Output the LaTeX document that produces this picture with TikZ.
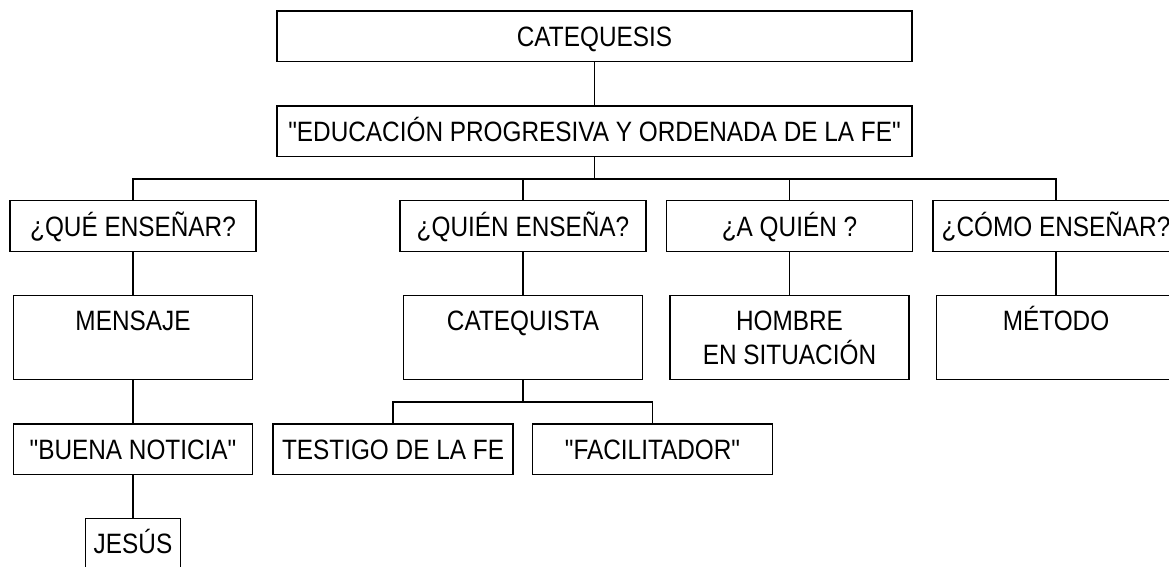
\documentclass[tikz,border=0pt]{standalone}
\usepackage{fontspec}
\setmainfont{Liberation Sans}[FakeStretch=0.87, Ligatures=TeXOff]
\tikzset{
  box/.style={draw, line width=1.5pt, inner sep=0pt, text height=20pt, text depth=0pt,
              minimum height=50.7pt, font=\fontsize{28}{32.7}\selectfont},
  tallbox/.style={box, minimum height=83.7pt, text depth=35pt},
  conn/.style={line width=1.1pt}
}
\begin{document}
\begin{tikzpicture}[x=1pt,y=-1pt]
\useasboundingbox (0,0) rectangle (1169,566);
% level 1-2
\node[box, minimum width=635pt] (cat) at (594.5,36.3) {CATEQUESIS};
\node[box, minimum width=635pt] (edu) at (594.5,131.3) {"EDUCACIÓN PROGRESIVA Y ORDENADA DE LA FE"};
% level 3
\node[box, minimum width=246pt, minimum height=51pt] (que) at (133,226.2) {¿QUÉ ENSEÑAR?};
\node[box, minimum width=246pt, minimum height=51pt] (quien) at (523,226.2) {¿QUIÉN ENSEÑA?};
\node[box, minimum width=246pt, minimum height=51pt] (aquien) at (789.5,226.2) {¿A QUIÉN ?};
\node[box, minimum width=246pt, minimum height=51pt] (como) at (1056,226.2) {¿CÓMO ENSEÑAR?};
% level 4
\node[tallbox, minimum width=239pt] (men) at (133,337.5) {MENSAJE};
\node[tallbox, minimum width=239pt] (cateq) at (523,337.5) {CATEQUISTA};
\node[tallbox, minimum width=239pt] (hombre) at (789.5,337.5) {\begin{tabular}[t]{@{}c@{}}HOMBRE\\EN SITUACIÓN\end{tabular}};
\node[tallbox, minimum width=239pt] (metodo) at (1056,337.5) {MÉTODO};
% level 5
\node[box, minimum width=239pt, minimum height=50.3pt] (buena) at (133,449.2) {"BUENA NOTICIA"};
\node[box, minimum width=239.6pt, minimum height=50.3pt] (testigo) at (393,449.2) {TESTIGO DE LA FE};
\node[box, minimum width=239.6pt, minimum height=50.3pt] (facil) at (652.5,449.2) {"FACILITADOR"};
% level 6
\node[box, minimum width=95pt, minimum height=50pt] (jesus) at (133,543.3) {JESÚS};
% connectors
\coordinate (b1) at (594.5,179);
\coordinate (b2) at (523,402);
\draw[conn] (cat) -- (edu);
\draw[conn] (edu) -- (b1);
\draw[conn] (que.north) |- (b1) -| (como.north);
\draw[conn] (quien.north) -- (quien.north |- b1);
\draw[conn] (aquien.north) -- (aquien.north |- b1);
\draw[conn] (que) -- (men);
\draw[conn] (quien) -- (cateq);
\draw[conn] (aquien) -- (hombre);
\draw[conn] (como) -- (metodo);
\draw[conn] (men) -- (buena);
\draw[conn] (buena) -- (jesus);
\draw[conn] (cateq) -- (b2);
\draw[conn] (testigo.north) |- (b2) -| (facil.north);
\end{tikzpicture}
\end{document}
